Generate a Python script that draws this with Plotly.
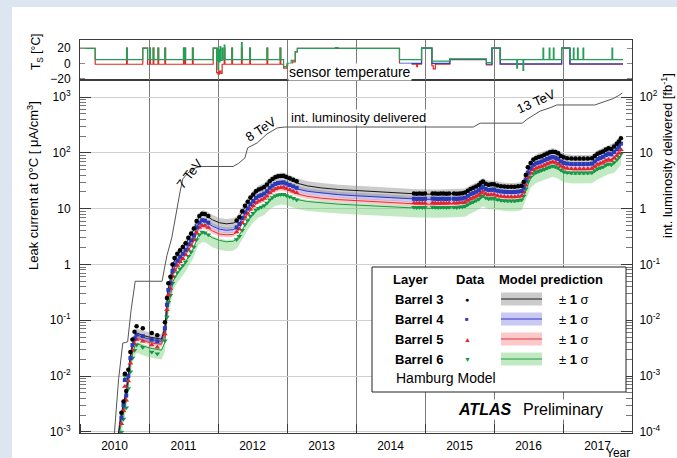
import plotly.graph_objects as go

FONT = "Liberation Sans, Arial, Helvetica, sans-serif"

# ---------------- measured leakage current (uA/cm^3 at 0 C) ----------------
data_year = [
    2010.60, 2010.63, 2010.65, 2010.67, 2010.70, 2010.73, 2010.76, 2010.79, 2010.82, 2010.91, 2011.04, 2011.12,
    2011.23, 2011.26, 2011.28, 2011.31, 2011.34, 2011.37, 2011.41, 2011.45, 2011.49, 2011.53, 2011.57, 2011.61,
    2011.65, 2011.69, 2011.73, 2011.77, 2011.81, 2011.86,
    2012.27, 2012.31, 2012.35, 2012.39, 2012.43, 2012.47, 2012.51, 2012.55, 2012.59, 2012.63, 2012.67, 2012.71,
    2012.75, 2012.79, 2012.83, 2012.87, 2012.91, 2012.95, 2012.99, 2013.04, 2013.09, 2013.14,
    2014.84, 2014.88, 2014.92, 2014.96, 2015.00, 2015.11, 2015.15, 2015.19, 2015.23, 2015.27, 2015.31, 2015.35,
    2015.42, 2015.46, 2015.50, 2015.54,
    2015.58, 2015.62, 2015.66, 2015.70, 2015.74, 2015.78, 2015.81, 2015.84, 2015.88, 2015.92, 2015.96, 2016.00,
    2016.05, 2016.10, 2016.15, 2016.20, 2016.25, 2016.30, 2016.35, 2016.40,
    2016.43, 2016.46, 2016.49, 2016.53, 2016.57, 2016.61, 2016.65, 2016.69, 2016.73, 2016.77, 2016.81, 2016.85,
    2016.89, 2016.93, 2016.97, 2017.01, 2017.06,
    2017.12, 2017.18, 2017.24, 2017.30, 2017.36, 2017.42, 2017.46, 2017.50, 2017.54, 2017.58, 2017.62, 2017.66,
    2017.70, 2017.74, 2017.78, 2017.81, 2017.84,
]
b3_data = [
    0.0022, 0.0035, 0.011, 0.0054, 0.013, 0.027, 0.045, 0.062, 0.078, 0.072, 0.059, 0.054,
    0.092, 0.25, 0.46, 0.6, 1.0, 1.3, 1.55, 1.8, 2.05, 2.4, 3.0, 3.6, 4.4, 6.0, 7.4, 8.1, 8.0, 7.4,
    6.1, 7.0, 9.0, 11.3, 13.3, 15.8, 18.0, 20.5, 22.0, 23.0, 24.5, 27.0, 31.0, 34.0, 36.5, 38.0, 38.5, 38.9,
    37.0, 35.0, 33.0, 31.0,
    18.6, 18.5, 18.6, 18.5, 18.6, 18.7, 18.6, 18.5, 18.6, 18.6, 18.5, 18.6, 18.6, 18.5, 18.7, 18.8,
    19.5, 21.0, 22.6, 23.8, 25.0, 26.5, 29.0, 30.6, 28.0, 26.8, 27.3, 27.4, 26.0, 25.3, 25.0, 24.8, 24.7, 24.8,
    25.1, 25.7,
    30.0, 40.0, 55.0, 66.0, 76.0, 81.0, 84.0, 87.0, 92.0, 97.0, 102.0, 105.0, 103.0, 98.0, 88.0, 83.0, 80.0,
    79.0, 79.0, 79.0, 79.0, 79.0, 80.0, 88.0, 96.0, 101.0, 106.0, 115.0, 121.0, 117.0, 130.0, 145.0, 160.0, 182.0,
]
b4_data = [
    0.0018, 0.003, 0.0085, 0.0045, 0.010, 0.021, 0.036, 0.047, 0.055, 0.052, 0.045, 0.042,
    0.072, 0.19, 0.35, 0.46, 0.76, 1.0, 1.18, 1.37, 1.56, 1.82, 2.3, 2.7, 3.3, 4.6, 5.6, 6.2, 6.1, 5.6,
    4.6, 5.3, 6.8, 8.6, 10.1, 12.0, 13.7, 15.6, 16.7, 17.5, 18.6, 20.5, 23.6, 25.8, 27.7, 28.9, 29.3, 29.6,
    28.1, 26.6, 25.1, 23.6,
    15.0, 14.9, 15.0, 14.9, 15.0, 15.1, 15.0, 14.9, 15.0, 15.0, 14.9, 15.0, 15.0, 14.9, 15.1, 15.2,
    15.7, 16.9, 18.2, 19.1, 20.1, 21.3, 23.3, 24.6, 22.5, 21.5, 21.9, 22.0, 20.9, 20.3, 20.1, 19.9, 19.8, 19.9,
    20.2, 20.6,
    24.0, 32.0, 44.0, 53.0, 61.0, 65.0, 67.0, 70.0, 74.0, 78.0, 82.0, 84.0, 82.0, 78.0, 70.0, 66.0, 64.0,
    63.0, 63.0, 63.0, 63.0, 63.0, 64.0, 70.0, 77.0, 81.0, 85.0, 92.0, 97.0, 94.0, 104.0, 116.0, 128.0, 146.0,
]
b5_data = [
    0.0014, 0.0024, 0.0065, 0.0037, 0.0082, 0.017, 0.029, 0.038, 0.045, 0.042, 0.036, 0.033,
    0.057, 0.155, 0.285, 0.37, 0.62, 0.81, 0.96, 1.12, 1.27, 1.49, 1.86, 2.23, 2.73, 3.7, 4.6, 5.0, 5.0, 4.6,
    3.8, 4.3, 5.6, 7.0, 8.2, 9.8, 11.2, 12.7, 13.6, 14.3, 15.2, 16.7, 19.2, 21.1, 22.6, 23.6, 23.9, 24.1,
    22.9, 21.7, 20.5, 19.2,
    12.6, 12.5, 12.6, 12.5, 12.6, 12.7, 12.6, 12.5, 12.6, 12.6, 12.5, 12.6, 12.6, 12.5, 12.7, 12.8,
    13.2, 14.1, 15.1, 15.8, 16.6, 17.6, 19.2, 20.3, 18.5, 17.7, 18.0, 18.1, 17.2, 16.7, 16.5, 16.4, 16.3, 16.4,
    16.6, 17.0,
    19.8, 26.4, 36.0, 43.0, 50.0, 53.0, 55.0, 57.0, 60.0, 64.0, 67.0, 69.0, 68.0, 64.0, 58.0, 55.0, 53.0,
    52.0, 52.0, 52.0, 52.0, 52.0, 53.0, 57.0, 62.0, 65.0, 68.0, 73.0, 76.0, 73.0, 81.0, 90.0, 99.0, 113.0,
]
b6_data = [
    0.0010, 0.0017, 0.0100, 0.0027, 0.0060, 0.012, 0.021, 0.029, 0.036, 0.033, 0.027, 0.025,
    0.043, 0.115, 0.21, 0.28, 0.46, 0.60, 0.72, 0.84, 0.96, 1.12, 1.40, 1.68, 2.05, 2.8, 3.4, 3.8, 3.7, 3.4,
    2.8, 3.2, 4.1, 5.2, 6.1, 7.3, 8.3, 9.5, 10.2, 10.7, 11.4, 12.6, 14.5, 15.9, 17.0, 17.7, 17.9, 18.1,
    17.2, 16.3, 15.4, 14.4,
    10.6, 10.5, 10.6, 10.5, 10.6, 10.7, 10.6, 10.5, 10.6, 10.6, 10.5, 10.6, 10.6, 10.5, 10.7, 10.8,
    11.1, 11.9, 12.7, 13.3, 14.0, 14.8, 16.2, 17.1, 15.6, 15.0, 15.3, 15.3, 14.6, 14.2, 14.0, 13.9, 13.8, 13.9,
    14.1, 14.4,
    16.8, 22.4, 30.8, 37.0, 42.5, 45.0, 47.0, 48.5, 51.0, 54.0, 56.5, 58.0, 57.0, 54.0, 49.0, 46.0, 44.5,
    44.0, 44.0, 44.0, 44.0, 44.0, 44.5, 48.0, 52.0, 54.0, 56.0, 60.0, 63.0, 61.0, 67.0, 75.0, 83.0, 95.0,
]

# ---------------- Hamburg model prediction ----------------
model_year = [
    2010.53, 2010.58, 2010.63, 2010.67, 2010.70, 2010.73, 2010.77, 2010.81, 2010.84, 2010.90, 2011.00, 2011.10, 2011.18,
    2011.23, 2011.27, 2011.31, 2011.35, 2011.41, 2011.47, 2011.53, 2011.59, 2011.65, 2011.71, 2011.77, 2011.83, 2011.92,
    2012.02, 2012.12, 2012.22, 2012.28, 2012.35, 2012.43, 2012.51, 2012.59, 2012.67, 2012.75, 2012.83, 2012.91, 2012.97,
    2013.05, 2013.15, 2013.30, 2013.50, 2013.75, 2014.00, 2014.30, 2014.60, 2014.90, 2015.20, 2015.50,
    2015.58, 2015.66, 2015.74, 2015.84, 2015.92, 2016.00, 2016.15, 2016.30, 2016.40,
    2016.46, 2016.53, 2016.61, 2016.69, 2016.77, 2016.85, 2016.93, 2017.01, 2017.15, 2017.30, 2017.42,
    2017.50, 2017.58, 2017.66, 2017.74, 2017.84,
]
b3_model = [
    0.0005, 0.0016, 0.0032, 0.0055, 0.011, 0.024, 0.042, 0.056, 0.058, 0.054, 0.050, 0.047, 0.046,
    0.075, 0.32, 0.56, 1.05, 1.45, 1.85, 2.3, 3.1, 4.2, 6.6, 7.7, 7.4, 6.3,
    5.6, 5.35, 5.5, 6.1, 8.6, 12.8, 17.3, 21.2, 23.5, 29.5, 34.5, 36.5, 35.5,
    32.0, 28.5, 25.5, 23.5, 22.0, 21.0, 20.0, 19.0, 18.3, 18.0, 18.2,
    18.8, 21.5, 24.0, 29.0, 25.8, 25.8, 23.8, 23.6, 24.5,
    38.0, 63.0, 77.0, 83.0, 92.0, 100.0, 92.0, 79.0, 75.0, 75.0, 76.0,
    91.0, 101.0, 115.0, 124.0, 172.0,
]
b4_model = [
    0.00045, 0.0014, 0.0029, 0.005, 0.010, 0.022, 0.039, 0.052, 0.054, 0.050, 0.046, 0.043, 0.042,
    0.064, 0.25, 0.43, 0.81, 1.12, 1.42, 1.77, 2.4, 3.2, 5.1, 5.9, 5.7, 4.85,
    4.3, 4.1, 4.2, 4.7, 6.6, 9.9, 13.3, 16.3, 18.1, 22.7, 26.6, 28.1, 27.5,
    25.0, 22.5, 20.4, 19.0, 17.8, 17.0, 16.2, 15.4, 14.8, 14.6, 14.7,
    15.1, 17.2, 19.2, 23.2, 20.6, 20.6, 19.0, 18.9, 19.6,
    30.4, 50.0, 61.0, 66.0, 73.0, 80.0, 73.0, 63.0, 60.0, 60.0, 61.0,
    73.0, 81.0, 92.0, 99.0, 138.0,
]
b5_model = [
    0.0004, 0.0013, 0.0026, 0.0045, 0.0089, 0.019, 0.034, 0.045, 0.047, 0.044, 0.040, 0.038, 0.037,
    0.052, 0.2, 0.35, 0.66, 0.91, 1.17, 1.45, 1.95, 2.65, 4.2, 4.85, 4.65, 4.0,
    3.5, 3.4, 3.45, 3.85, 5.4, 8.1, 10.9, 13.4, 14.8, 18.6, 21.7, 23.0, 22.5,
    20.5, 18.4, 16.6, 15.4, 14.5, 13.9, 13.2, 12.6, 12.1, 11.9, 12.0,
    12.4, 14.2, 15.8, 19.1, 17.0, 17.0, 15.7, 15.6, 16.2,
    25.0, 41.5, 50.8, 54.8, 60.7, 66.0, 60.7, 52.1, 49.5, 49.5, 50.0,
    59.0, 65.0, 73.0, 78.0, 107.0,
]
b6_model = [
    0.00033, 0.0011, 0.0021, 0.0036, 0.0072, 0.016, 0.028, 0.037, 0.038, 0.035, 0.032, 0.030, 0.029,
    0.040, 0.155, 0.27, 0.50, 0.70, 0.89, 1.10, 1.49, 2.0, 3.2, 3.7, 3.55, 3.0,
    2.7, 2.55, 2.6, 2.9, 4.1, 6.1, 8.3, 10.2, 11.3, 14.2, 16.6, 17.5, 17.2,
    15.8, 14.5, 13.4, 12.7, 12.0, 11.6, 11.1, 10.6, 10.2, 10.1, 10.2,
    10.5, 12.0, 13.4, 16.2, 14.4, 14.4, 13.3, 13.2, 13.7,
    21.0, 35.0, 42.5, 46.0, 50.5, 55.0, 50.5, 43.5, 41.5, 41.5, 42.0,
    49.0, 54.0, 60.5, 64.0, 89.0,
]
# +-1 sigma band of the model, as (lower, upper) multiplicative factors
sigma_band = {
    "Barrel 3": (0.80, 1.22),
    "Barrel 4": (0.88, 1.13),
    "Barrel 5": (0.90, 1.10),
    "Barrel 6": (0.68, 1.08),
}

# ---------------- integrated luminosity delivered (fb^-1) ----------------
lumi_year = [
    2010.45, 2010.50, 2010.56, 2010.62, 2010.69, 2010.74, 2010.80, 2011.19, 2011.22, 2011.26, 2011.33,
    2011.37, 2011.41, 2011.45, 2011.49, 2011.56, 2011.64, 2011.74, 2012.22, 2012.30, 2012.39, 2012.43,
    2012.57, 2012.71, 2012.86, 2012.97, 2015.70, 2015.80, 2016.41, 2016.48, 2016.58, 2016.67, 2016.81,
    2016.91, 2017.46, 2017.55, 2017.64, 2017.72, 2017.80, 2017.86,
]
lumi_fb = [
    0.00006, 0.0001, 0.0009, 0.0039, 0.0041, 0.015, 0.05, 0.05, 0.08, 0.145, 0.30,
    0.6, 1.0, 2.0, 3.4, 4.3, 5.2, 5.7, 5.7, 6.5, 8.1, 12.3,
    15.1, 21.8, 28.0, 29.0, 29.0, 34.0, 34.0, 40.0, 48.0, 56.0, 64.0,
    72.0, 72.0, 78.0, 86.0, 93.0, 105.0, 118.0,
]

# ---------------- sensor temperature (deg C), step-wise ----------------
temp_green = [
    (2010.00, 19.5), (2010.22, 5), (2010.675, 20), (2010.685, 5), (2010.91, 20), (2010.98, 5),
    (2011.01, 20), (2011.02, 5), (2011.06, 20), (2011.07, 5), (2011.13, 20), (2011.14, 5),
    (2011.23, 20), (2011.24, 5), (2011.50, 20), (2011.51, 5), (2011.52, 20), (2011.53, 5),
    (2011.63, 20), (2011.64, 5), (2011.93, 20), (2011.98, 3), (2011.99, 20), (2012.00, -8),
    (2012.01, 18), (2012.02, 2), (2012.03, 22), (2012.04, 4), (2012.06, 20), (2012.07, 5),
    (2012.09, 24), (2012.10, 5), (2012.20, 20), (2012.21, 5), (2012.34, 27), (2012.35, 5),
    (2012.46, 20), (2012.47, 5), (2012.71, 20), (2012.72, 5), (2012.90, 20), (2012.91, 5),
    (2012.95, -4), (2013.00, 0), (2013.06, 4), (2013.12, 15), (2013.15, 19.5), (2013.70, 20.5),
    (2013.74, 19.5), (2014.63, 5), (2014.95, 20), (2015.10, 3), (2015.36, 6), (2015.89, 1),
    (2015.97, 20), (2016.09, 5), (2016.33, -6), (2016.34, 5), (2016.42, -9), (2016.43, 5),
    (2016.71, 20), (2016.72, 5), (2016.80, 20), (2016.81, 5), (2016.86, 20), (2016.87, 5),
    (2016.98, 20), (2017.10, 5), (2017.15, 20), (2017.16, 5), (2017.21, 20), (2017.22, 5),
    (2017.29, 20), (2017.30, 5), (2017.71, 20), (2017.72, 5), (2017.87, 5),
]
temp_red = [
    (2010.00, 19.5), (2010.22, -1), (2010.675, 20), (2010.685, -1), (2010.91, 20), (2010.98, -1),
    (2011.01, 20), (2011.02, -1), (2011.06, 20), (2011.07, -1), (2011.13, 20), (2011.14, -1),
    (2011.23, 20), (2011.24, -1), (2011.50, 20), (2011.51, -1), (2011.52, 20), (2011.53, -1),
    (2011.63, 20), (2011.64, -1), (2011.93, 20), (2011.98, -12), (2012.00, -14), (2012.02, -10),
    (2012.04, -13), (2012.06, -1), (2012.09, 20), (2012.10, -1), (2012.20, 20), (2012.21, -1),
    (2012.34, 20), (2012.35, -1), (2012.46, 20), (2012.47, -1), (2012.71, 20), (2012.72, -1),
    (2012.90, 20), (2012.91, -1), (2012.95, -6), (2013.00, -2), (2013.08, 2), (2013.12, 15),
    (2013.15, 19.5), (2014.63, -1), (2014.70, -4), (2014.71, -1), (2014.88, -4), (2014.89, -1),
    (2014.95, 20), (2015.10, -3), (2015.12, -7), (2015.15, -1), (2015.36, 5), (2015.89, -2),
    (2015.97, 20), (2016.09, -1), (2016.98, 20), (2017.10, -1), (2017.87, -1),
]
temp_blue = [
    (2014.63, 0), (2014.95, 20), (2015.10, 0), (2015.30, 0), (2015.36, 5.5), (2015.89, -1),
    (2015.97, 20), (2016.09, -0.5), (2016.98, 20), (2017.10, -0.5), (2017.87, -0.5),
]

year_labels = ["2010", "2011", "2012", "2013", "2014", "2015", "2016", "2017"]

assert all(len(s) == len(data_year) for s in (b3_data, b4_data, b5_data, b6_data))
assert all(len(s) == len(model_year) for s in (b3_model, b4_model, b5_model, b6_model))
assert len(lumi_year) == len(lumi_fb)

# per-layer styling
layers = [
    dict(name="Barrel 3", model=b3_model, data=b3_data, line="#1a1a1a", band="rgba(140,140,140,0.45)",
         color="#000000", symbol="circle", size=4.5, key="●", key_size=7),
    dict(name="Barrel 4", model=b4_model, data=b4_data, line="#3036c8", band="rgba(120,120,225,0.40)",
         color="#2a3ab8", symbol="square", size=4, key="■", key_size=6),
    dict(name="Barrel 5", model=b5_model, data=b5_data, line="#e8303a", band="rgba(245,120,120,0.40)",
         color="#e0252e", symbol="triangle-up", size=5, key="▲", key_size=7),
    dict(name="Barrel 6", model=b6_model, data=b6_data, line="#1f9a45", band="rgba(110,205,110,0.42)",
         color="#139848", symbol="triangle-down", size=5, key="▼", key_size=7),
]

fig = go.Figure()

# model bands (drawn first so everything else sits on top)
for ly in reversed(layers):
    lo, hi = sigma_band[ly["name"]]
    fig.add_trace(go.Scatter(x=model_year, y=[v * lo for v in ly["model"]], mode="lines",
                             line=dict(width=0, color=ly["band"]), hoverinfo="skip"))
    fig.add_trace(go.Scatter(x=model_year, y=[v * hi for v in ly["model"]], mode="lines",
                             line=dict(width=0, color=ly["band"]), fill="tonexty",
                             fillcolor=ly["band"], hoverinfo="skip"))
# model central lines
for ly in reversed(layers):
    fig.add_trace(go.Scatter(x=model_year, y=ly["model"], mode="lines",
                             line=dict(width=1, color=ly["line"])))
# data points
for ly in reversed(layers):
    fig.add_trace(go.Scatter(x=data_year, y=ly["data"], mode="markers",
                             marker=dict(symbol=ly["symbol"], size=ly["size"], color=ly["color"],
                                         line=dict(width=0))))

# integrated luminosity on the right-hand axis
fig.add_trace(go.Scatter(x=lumi_year, y=lumi_fb, mode="lines", yaxis="y3",
                         line=dict(width=1, color="#555555")))

# sensor temperature panel
for series, col in ((temp_red, "#e02828"), (temp_blue, "#3040b8"), (temp_green, "#22a055")):
    fig.add_trace(go.Scatter(x=[p[0] for p in series], y=[p[1] for p in series], mode="lines",
                             line=dict(width=1.2, color=col, shape="hv"), xaxis="x2", yaxis="y2"))


def px_x(x):
    return (x - 80) / 552


def px_y(y):
    return (433 - y) / 393


main_top = px_y(80)
year_edges = list(range(2010, 2019))
year_mid = [y + 0.5 for y in range(2010, 2018)]
decades_left = [1e-3, 1e-2, 1e-1, 1, 10, 100, 1000]
decades_left_txt = ["10<sup>-3</sup>", "10<sup>-2</sup>", "10<sup>-1</sup>", "1", "10",
                    "10<sup>2</sup>", "10<sup>3</sup>"]
decades_right = [1e-4, 1e-3, 1e-2, 1e-1, 1, 10, 100]
decades_right_txt = ["10<sup>-4</sup>", "10<sup>-3</sup>", "10<sup>-2</sup>", "10<sup>-1</sup>", "1",
                     "10", "10<sup>2</sup>"]
minor_left = [m * 10.0 ** e for e in range(-3, 3) for m in range(2, 10)] + [2000]
minor_right = [m * 10.0 ** e for e in range(-4, 2) for m in range(2, 10)] + [200]

frame = "#3a3a3a"
fig.update_layout(
    width=677, height=458,
    margin=dict(l=80, r=45, t=40, b=25, autoexpand=False),
    paper_bgcolor="#dde5f1", plot_bgcolor="white",
    showlegend=False,
    font=dict(family=FONT, size=12, color="black"),
    xaxis=dict(domain=[0, 1], anchor="y", range=[2010, 2018], tickmode="array", tickvals=year_mid,
               ticktext=year_labels, ticks="", showgrid=False, zeroline=False, automargin=False,
               showline=True, linecolor=frame, linewidth=1, mirror=True, ticklabelstandoff=2,
               tickfont=dict(size=12),
               minor=dict(tickmode="array", tickvals=year_edges, ticks="inside", ticklen=9,
                          tickcolor=frame, showgrid=True, gridcolor="#7a7a7a", gridwidth=1)),
    xaxis2=dict(domain=[0, 1], anchor="y2", range=[2010, 2018], matches="x", showticklabels=False,
                ticks="", showgrid=False, zeroline=False, showline=True, linecolor=frame,
                linewidth=1, mirror=True, automargin=False,
                minor=dict(tickmode="array", tickvals=year_edges, ticks="", showgrid=True,
                           gridcolor="#7a7a7a", gridwidth=1)),
    yaxis=dict(domain=[0, main_top], anchor="x", type="log", range=[-3.02, 3.305],
               tickmode="array", tickvals=decades_left, ticktext=decades_left_txt,
               ticks="inside", ticklen=11, tickcolor=frame, showgrid=True, gridcolor="#cfcfcf",
               showline=True, linecolor=frame, linewidth=1, zeroline=False, ticklabelstandoff=6,
               automargin=False,
               minor=dict(tickmode="array", tickvals=minor_left, ticks="inside", ticklen=6,
                          tickcolor="#777777", showgrid=False)),
    yaxis2=dict(domain=[main_top, 1], anchor="x2", range=[-21.5, 30.5], tickmode="array",
                tickvals=[-20, 0, 20], ticktext=["\u221220", "0", "20"], ticks="inside", ticklen=5,
                tickcolor="#888888", showgrid=False, zeroline=False, showline=True, linecolor=frame,
                linewidth=1, mirror="ticks", ticklabelstandoff=6, automargin=False),
    yaxis3=dict(overlaying="y", side="right", anchor="x", type="log", range=[-4.02, 2.305],
                tickmode="array", tickvals=decades_right, ticktext=decades_right_txt,
                ticks="inside", ticklen=11, tickcolor=frame, showgrid=False, showline=True,
                linecolor=frame, linewidth=1, zeroline=False, ticklabelstandoff=4, automargin=False,
                minor=dict(tickmode="array", tickvals=minor_right, ticks="inside", ticklen=6,
                           tickcolor="#777777", showgrid=False)),
)

shapes = [
    # white page area
    dict(type="rect", xref="paper", yref="paper", x0=px_x(12), x1=px_x(680), y0=px_y(460), y1=px_y(7),
         fillcolor="white", line=dict(width=0), layer="below"),
    # legend frame
    dict(type="rect", xref="paper", yref="paper", x0=px_x(372), x1=px_x(626), y0=px_y(392),
         y1=px_y(267), fillcolor="white", line=dict(width=1, color="#222222"), layer="above"),
]
annotations = [
    dict(text="Leak current at 0\u00b0C [ \u03bcA/cm<sup>3</sup>]", x=px_x(33), y=px_y(186),
         textangle=-90, font=dict(size=13)),
    dict(text="int. luminosity delivered [fb<sup>-1</sup>]", x=px_x(667), y=px_y(156),
         textangle=-90, font=dict(size=13)),
    dict(text="T<sub>S</sub> [\u00b0C]", x=px_x(37), y=px_y(52), textangle=-90, font=dict(size=12)),
    dict(text="Year", x=px_x(632), y=px_y(453), xanchor="right", font=dict(size=12)),
    dict(text="sensor temperature", x=px_x(288), y=px_y(72), xanchor="left", font=dict(size=14),
         bgcolor="white", borderpad=0),
    dict(text="int. luminosity delivered", x=px_x(290), y=px_y(117), xanchor="left",
         font=dict(size=13), bgcolor="white", borderpad=0),
    dict(text="7 TeV", x=px_x(189), y=px_y(174), textangle=-52, font=dict(size=13)),
    dict(text="8 TeV", x=px_x(260), y=px_y(129), textangle=-33, font=dict(size=13)),
    dict(text="13 TeV", x=px_x(536), y=px_y(102), textangle=-24, font=dict(size=13)),
    dict(text="<b><i>ATLAS</i></b>", x=px_x(456), y=px_y(409), xanchor="left", font=dict(size=16),
         bgcolor="white", borderpad=1),
    dict(text="Preliminary", x=px_x(521), y=px_y(409), xanchor="left", font=dict(size=16),
         bgcolor="white", borderpad=1),
    # legend table
    dict(text="<b>Layer</b>", x=px_x(410), y=px_y(279), font=dict(size=13)),
    dict(text="<b>Data</b>", x=px_x(470), y=px_y(279), font=dict(size=13)),
    dict(text="<b>Model prediction</b>", x=px_x(551), y=px_y(279), font=dict(size=13)),
    dict(text="Hamburg Model", x=px_x(394), y=px_y(378), xanchor="left", font=dict(size=14)),
]
for i, ly in enumerate(layers):
    row_y = 299 + 20 * i
    annotations.append(dict(text="<b>%s</b>" % ly["name"], x=px_x(393), y=px_y(row_y), xanchor="left",
                            font=dict(size=13)))
    annotations.append(dict(text=ly["key"], x=px_x(467), y=px_y(row_y),
                            font=dict(size=ly["key_size"], color=ly["color"])))
    annotations.append(dict(text="\u00b1 <b>1</b> \u03c3", x=px_x(557), y=px_y(row_y), xanchor="left",
                            font=dict(size=13)))
    shapes.append(dict(type="rect", xref="paper", yref="paper", x0=px_x(501), x1=px_x(542),
                       y0=px_y(row_y + 6.5), y1=px_y(row_y - 6.5), fillcolor=ly["band"],
                       line=dict(width=0), layer="above"))
    shapes.append(dict(type="line", xref="paper", yref="paper", x0=px_x(501), x1=px_x(542),
                       y0=px_y(row_y), y1=px_y(row_y), line=dict(width=1.2, color=ly["line"]),
                       layer="above"))

for a in annotations:
    a.setdefault("xref", "paper")
    a.setdefault("yref", "paper")
    a.setdefault("xanchor", "center")
    a.setdefault("yanchor", "middle")
    a.setdefault("showarrow", False)
fig.update_layout(shapes=shapes, annotations=annotations)

fig.write_html("out.html")
